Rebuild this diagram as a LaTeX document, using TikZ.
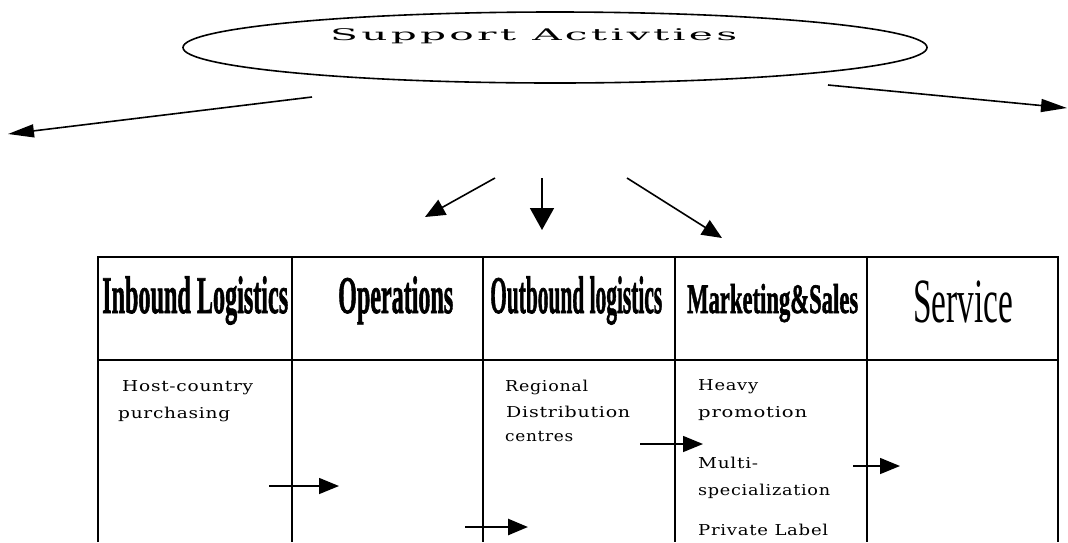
\documentclass[tikz,border=0pt]{standalone}
\usepackage{fontspec}
\usepackage{graphicx}
\setmainfont{Liberation Serif}
\newfontfamily\heavyserif[BoldFeatures={FakeBold=1.6}]{Liberation Serif}
\newfontfamily\spacedserif[LetterSpace=4]{DejaVu Serif}
\newfontfamily\bubbleserif[LetterSpace=8]{DejaVu Serif}
\usetikzlibrary{arrows.meta,shapes.geometric}

% stretch or squeeze a text horizontally to a given width, keeping its height
\newcommand\fitw[2]{\resizebox{#1}{\height}{#2}}

\tikzset{
  hdr/.style={anchor=base west, inner sep=0pt},
  cell/.style={anchor=base west, inner sep=0pt,
               font=\spacedserif\fontsize{15}{15}\selectfont},
  gridline/.style={line width=2pt},
  bigflow/.style={line width=1.6pt, -{Triangle[length=26pt,width=13pt]}},
  midflow/.style={line width=1.6pt, -{Triangle[length=20pt,width=17pt]}},
  flow/.style={line width=1.5pt, -{Triangle[length=20pt,width=16pt]}},
  thickflow/.style={line width=2.6pt, -{Triangle[length=20pt,width=16pt]}},
}

\begin{document}
\begin{tikzpicture}[x=1pt, y=-1pt]
  \useasboundingbox (0,0) rectangle (1068,542);

  % support activities bubble
  \node[draw, ellipse, line width=1.6pt, minimum width=744pt, minimum height=71pt,
        inner sep=0pt] (support) at (555,47.5) {};
  \node[cell, font=\bubbleserif\fontsize{16}{16}\selectfont] (supporttext) at (330,40)
       {\fitw{407pt}{Support Activties}};

  % arrows fanning out of the bubble
  \coordinate (sl0) at (312,97);   \coordinate (sl1) at (8,134);
  \coordinate (sr0) at (828,85);   \coordinate (sr1) at (1067,108);
  \coordinate (m10) at (495,178);  \coordinate (m11) at (425,217);
  \coordinate (m20) at (542,178);  \coordinate (m21) at (542,230);
  \coordinate (m30) at (627,178);  \coordinate (m31) at (722,238);
  \draw[bigflow] (sl0) -- (sl1);
  \draw[bigflow] (sr0) -- (sr1);
  \draw[midflow] (m10) -- (m11);
  \draw[midflow, -{Triangle[length=22pt,width=24pt]}] (m20) -- (m21);
  \draw[midflow] (m30) -- (m31);

  % value chain table
  \draw[gridline] (98,542) -- (98,257) -- (1058,257) -- (1058,542);
  \draw[gridline] (98,360) -- (1058,360);
  \foreach \cx in {292,483,675,867}
    \draw[gridline] (\cx,257) -- (\cx,542);

  % column headings
  \node[hdr] (inbound) at (102,313)
       {\fitw{186pt}{\heavyserif\bfseries\fontsize{53}{53}\selectfont Inbound Logistics}};
  \node[hdr] (operations) at (338,313)
       {\fitw{115pt}{\heavyserif\bfseries\fontsize{53}{53}\selectfont Operations}};
  \node[hdr] (outbound) at (490,313)
       {\fitw{172pt}{\heavyserif\bfseries\fontsize{53}{53}\selectfont Outbound logistics}};
  \node[hdr] (marketing) at (687,313)
       {\fitw{171pt}{\heavyserif\bfseries\fontsize{42}{42}\selectfont Marketing\&Sales}};
  \node[hdr] (service) at (913,322)
       {\fitw{100pt}{\fontsize{63}{63}\selectfont Service}};

  % cell entries
  \node[cell] (hc1) at (122,391) {\fitw{131pt}{Host-country}};
  \node[cell] (hc2) at (118,418) {\fitw{112pt}{purchasing}};
  \node[cell] (rd1) at (505,391) {\fitw{83pt}{Regional}};
  \node[cell] (rd2) at (506,417) {\fitw{124pt}{Distribution}};
  \node[cell] (rd3) at (505,441) {\fitw{68pt}{centres}};
  \node[cell] (ms1) at (698,390) {\fitw{60pt}{Heavy}};
  \node[cell] (ms2) at (698,417) {\fitw{109pt}{promotion}};
  \node[cell] (ms3) at (698,468) {\fitw{60pt}{Multi-}};
  \node[cell] (ms4) at (698,495) {\fitw{132pt}{specialization}};
  \node[cell] (ms5) at (698,535) {\fitw{130pt}{Private Label}};

  % links across the columns
  \coordinate (a10) at (269,486);  \coordinate (a11) at (339,486);
  \coordinate (a20) at (465,527);  \coordinate (a21) at (528,527);
  \coordinate (a30) at (640,444);  \coordinate (a31) at (703,444);
  \coordinate (a40) at (853,466);  \coordinate (a41) at (900,466);
  \draw[flow] (a10) -- (a11);
  \draw[thickflow] (a20) -- (a21);
  \draw[flow] (a30) -- (a31);
  \draw[flow] (a40) -- (a41);
\end{tikzpicture}
\end{document}
